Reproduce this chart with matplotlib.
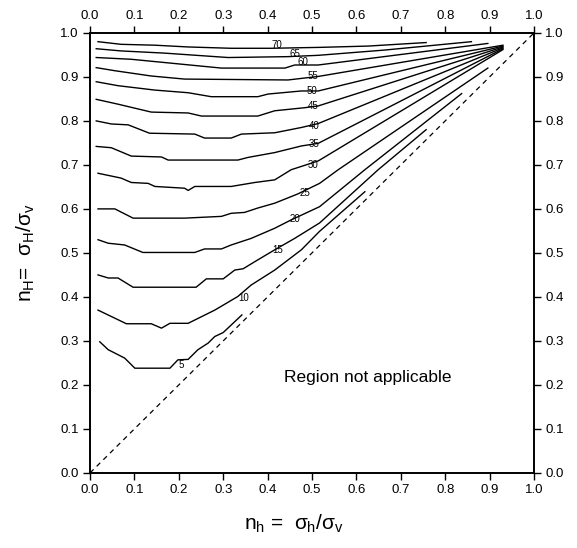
import matplotlib
matplotlib.use('Agg')
import matplotlib.pyplot as plt

plt.rcParams['font.family'] = ['Liberation Sans', 'DejaVu Sans']
plt.rcParams['mathtext.fontset'] = 'custom'
plt.rcParams['mathtext.rm'] = 'Liberation Sans'
plt.rcParams['mathtext.it'] = 'Liberation Sans'

# contour levels and their traced curves (x = n_h, y = n_H)
LEVELS = [70, 65, 60, 55, 50, 45, 40, 35, 30, 25, 20, 15, 10, 5]

C70_X = [0.018, 0.070, 0.146, 0.221, 0.318, 0.408, 0.514, 0.626, 0.757]
C70_Y = [0.980, 0.974, 0.972, 0.968, 0.965, 0.965, 0.967, 0.970, 0.978]
C65_X = [0.014, 0.070, 0.168, 0.311, 0.446, 0.514, 0.664, 0.859]
C65_Y = [0.964, 0.959, 0.954, 0.944, 0.946, 0.949, 0.961, 0.980]
C60_X = [0.014, 0.093, 0.296, 0.439, 0.461, 0.514, 0.896]
C60_Y = [0.944, 0.940, 0.920, 0.920, 0.927, 0.927, 0.976]
C55_X = [0.014, 0.056, 0.138, 0.213, 0.446, 0.514, 0.930]
C55_Y = [0.921, 0.914, 0.902, 0.895, 0.893, 0.901, 0.972]
C50_X = [0.014, 0.063, 0.146, 0.221, 0.273, 0.378, 0.401, 0.476, 0.514, 0.930]
C50_Y = [0.889, 0.880, 0.870, 0.864, 0.855, 0.855, 0.861, 0.868, 0.868, 0.970]
C45_X = [0.014, 0.063, 0.138, 0.221, 0.251, 0.378, 0.416, 0.484, 0.514, 0.930]
C45_Y = [0.849, 0.838, 0.820, 0.818, 0.811, 0.811, 0.823, 0.830, 0.834, 0.968]
C40_X = [0.014, 0.048, 0.086, 0.134, 0.236, 0.258, 0.318, 0.341, 0.416, 0.476,
         0.514, 0.930]
C40_Y = [0.800, 0.793, 0.791, 0.772, 0.770, 0.761, 0.761, 0.770, 0.773, 0.785,
         0.794, 0.966]
C35_X = [0.014, 0.048, 0.093, 0.161, 0.176, 0.333, 0.356, 0.416, 0.476, 0.514,
         0.930]
C35_Y = [0.742, 0.739, 0.720, 0.718, 0.711, 0.711, 0.717, 0.728, 0.743, 0.749,
         0.964]
C30_X = [0.018, 0.070, 0.093, 0.131, 0.146, 0.213, 0.221, 0.236, 0.318, 0.371,
         0.416, 0.453, 0.514, 0.930]
C30_Y = [0.681, 0.670, 0.660, 0.658, 0.651, 0.647, 0.642, 0.651, 0.651, 0.660,
         0.666, 0.689, 0.709, 0.962]
C25_X = [0.018, 0.056, 0.097, 0.213, 0.296, 0.318, 0.348, 0.378, 0.416, 0.468,
         0.517, 0.559, 0.896]
C25_Y = [0.600, 0.600, 0.579, 0.579, 0.583, 0.590, 0.592, 0.602, 0.613, 0.634,
         0.658, 0.689, 0.920]
C20_X = [0.018, 0.041, 0.078, 0.119, 0.236, 0.258, 0.296, 0.318, 0.363, 0.416,
         0.453, 0.517, 0.619, 0.837]
C20_Y = [0.530, 0.522, 0.518, 0.501, 0.501, 0.509, 0.509, 0.518, 0.533, 0.556,
         0.575, 0.605, 0.689, 0.862]
C15_X = [0.018, 0.041, 0.063, 0.097, 0.239, 0.262, 0.300, 0.326, 0.345, 0.371,
         0.416, 0.461, 0.517, 0.649, 0.757]
C15_Y = [0.450, 0.443, 0.443, 0.422, 0.422, 0.441, 0.441, 0.461, 0.464, 0.480,
         0.507, 0.533, 0.568, 0.689, 0.780]
C10_X = [0.018, 0.082, 0.138, 0.161, 0.180, 0.221, 0.281, 0.333, 0.363, 0.416,
         0.476, 0.517, 0.619]
C10_Y = [0.370, 0.339, 0.339, 0.329, 0.340, 0.340, 0.370, 0.401, 0.427, 0.461,
         0.507, 0.549, 0.639]
C5_X = [0.022, 0.041, 0.078, 0.101, 0.180, 0.198, 0.221, 0.243, 0.266, 0.281,
        0.300, 0.342]
C5_Y = [0.298, 0.280, 0.261, 0.238, 0.238, 0.257, 0.258, 0.280, 0.295, 0.310,
        0.319, 0.359]

CURVES_X = [C70_X, C65_X, C60_X, C55_X, C50_X, C45_X, C40_X, C35_X, C30_X,
            C25_X, C20_X, C15_X, C10_X, C5_X]
CURVES_Y = [C70_Y, C65_Y, C60_Y, C55_Y, C50_Y, C45_Y, C40_Y, C35_Y, C30_Y,
            C25_Y, C20_Y, C15_Y, C10_Y, C5_Y]

# where each level is labelled on its curve
LABEL_X = [0.421, 0.462, 0.480, 0.502, 0.500, 0.502, 0.504, 0.504, 0.502,
           0.484, 0.462, 0.423, 0.345, 0.205]
LABEL_Y = [0.973, 0.952, 0.934, 0.902, 0.868, 0.834, 0.789, 0.748, 0.700,
           0.636, 0.577, 0.507, 0.398, 0.245]

TICKS = [0.0, 0.1, 0.2, 0.3, 0.4, 0.5, 0.6, 0.7, 0.8, 0.9, 1.0]


def main():
    fig = plt.figure(figsize=(5.77, 5.48), dpi=100)
    ax = fig.add_axes([0.156, 0.137, 0.7695, 0.803])

    for xs, ys in zip(CURVES_X, CURVES_Y):
        ax.plot(xs, ys, color='k', lw=1.0)
    for lev, lx, ly in zip(LEVELS, LABEL_X, LABEL_Y):
        ax.text(lx, ly, str(lev), fontsize=7, ha='center', va='center')

    ax.plot([0, 1], [0, 1], color='k', lw=0.9, linestyle=(0, (4, 3.5)))
    ax.text(0.626, 0.216, 'Region not applicable', fontsize=12.5,
            ha='center', va='center')

    ax.set_xlim(0, 1)
    ax.set_ylim(0, 1)
    ax.set_xticks(TICKS)
    ax.set_yticks(TICKS)
    ax.set_xticklabels([f'{t:.1f}' for t in TICKS])
    ax.set_yticklabels([f'{t:.1f}' for t in TICKS])
    ax.tick_params(direction='out', length=5, width=1.0, labelsize=9.5,
                   top=True, right=True, labeltop=True, labelright=True,
                   pad=3)
    for s in ax.spines.values():
        s.set_linewidth(1.4)

    ax.set_xlabel(r'n$_\mathregular{h}$ =  $\sigma_\mathregular{h}$/$\sigma_\mathregular{v}$',
                  fontsize=15, labelpad=12)
    ax.xaxis.label.set_x(0.46)
    ax.set_ylabel(r'n$_\mathregular{H}$=  $\sigma_\mathregular{H}$/$\sigma_\mathregular{v}$',
                  fontsize=15, labelpad=17)

    fig.savefig('out.png', dpi=100)
    plt.close(fig)


if __name__ == '__main__':
    main()
